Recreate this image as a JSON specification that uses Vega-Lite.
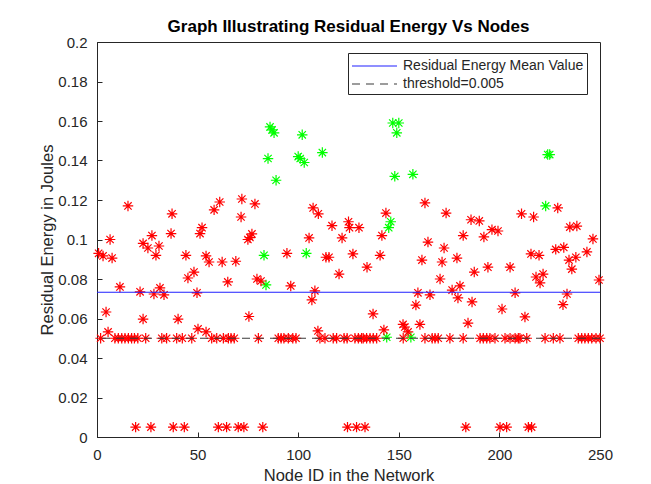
{
  "$schema": "https://vega.github.io/schema/vega-lite/v6.json",
  "width": 503,
  "height": 395,
  "autosize": {"type": "none"},
  "padding": {"left": 97, "top": 42, "right": 51, "bottom": 47},
  "background": "white",
  "config": {"font": "Liberation Sans", "view": {"stroke": "#262626", "strokeWidth": 1}},
  "title": {"text": "Graph Illustrating Residual Energy Vs Nodes", "fontSize": 17, "fontWeight": "bold", "color": "#000000", "frame": "group", "offset": -1, "font": "Liberation Sans"},
  "datasets": {
    "nodes": [
      {"node": 86, "energy": 0.157, "status": "high"},
      {"node": 87, "energy": 0.1555, "status": "high"},
      {"node": 88, "energy": 0.154, "status": "high"},
      {"node": 85, "energy": 0.141, "status": "high"},
      {"node": 89, "energy": 0.13, "status": "high"},
      {"node": 100, "energy": 0.142, "status": "high"},
      {"node": 101, "energy": 0.141, "status": "high"},
      {"node": 103, "energy": 0.139, "status": "high"},
      {"node": 102, "energy": 0.153, "status": "high"},
      {"node": 112, "energy": 0.144, "status": "high"},
      {"node": 147, "energy": 0.159, "status": "high"},
      {"node": 150, "energy": 0.159, "status": "high"},
      {"node": 149, "energy": 0.154, "status": "high"},
      {"node": 148, "energy": 0.132, "status": "high"},
      {"node": 157, "energy": 0.133, "status": "high"},
      {"node": 146, "energy": 0.109, "status": "high"},
      {"node": 145, "energy": 0.106, "status": "high"},
      {"node": 144, "energy": 0.0505, "status": "high"},
      {"node": 156, "energy": 0.0505, "status": "high"},
      {"node": 224, "energy": 0.143, "status": "high"},
      {"node": 225, "energy": 0.143, "status": "high"},
      {"node": 223, "energy": 0.117, "status": "high"},
      {"node": 83, "energy": 0.092, "status": "high"},
      {"node": 104, "energy": 0.093, "status": "high"},
      {"node": 84, "energy": 0.077, "status": "high"},
      {"node": 15.4, "energy": 0.117, "status": "low"},
      {"node": 37.3, "energy": 0.113, "status": "low"},
      {"node": 6.5, "energy": 0.1, "status": "low"},
      {"node": 27.3, "energy": 0.102, "status": "low"},
      {"node": 36.8, "energy": 0.103, "status": "low"},
      {"node": 51.2, "energy": 0.103, "status": "low"},
      {"node": 52.2, "energy": 0.106, "status": "low"},
      {"node": 58.2, "energy": 0.115, "status": "low"},
      {"node": 61, "energy": 0.119, "status": "low"},
      {"node": 0.8, "energy": 0.093, "status": "low"},
      {"node": 3, "energy": 0.0917, "status": "low"},
      {"node": 7.5, "energy": 0.0906, "status": "low"},
      {"node": 22.9, "energy": 0.098, "status": "low"},
      {"node": 25.3, "energy": 0.0957, "status": "low"},
      {"node": 30.8, "energy": 0.0967, "status": "low"},
      {"node": 29.3, "energy": 0.092, "status": "low"},
      {"node": 44.2, "energy": 0.092, "status": "low"},
      {"node": 45.2, "energy": 0.0805, "status": "low"},
      {"node": 48.2, "energy": 0.0835, "status": "low"},
      {"node": 54.2, "energy": 0.0917, "status": "low"},
      {"node": 55.7, "energy": 0.0886, "status": "low"},
      {"node": 62.2, "energy": 0.0886, "status": "low"},
      {"node": 11.4, "energy": 0.076, "status": "low"},
      {"node": 21.4, "energy": 0.0735, "status": "low"},
      {"node": 31.3, "energy": 0.0755, "status": "low"},
      {"node": 28.3, "energy": 0.0724, "status": "low"},
      {"node": 33.3, "energy": 0.072, "status": "low"},
      {"node": 49.7, "energy": 0.073, "status": "low"},
      {"node": 4.5, "energy": 0.0633, "status": "low"},
      {"node": 22.9, "energy": 0.0597, "status": "low"},
      {"node": 40.3, "energy": 0.0597, "status": "low"},
      {"node": 5.5, "energy": 0.0532, "status": "low"},
      {"node": 50.2, "energy": 0.0547, "status": "low"},
      {"node": 54.2, "energy": 0.0532, "status": "low"},
      {"node": 1.8, "energy": 0.05, "status": "low"},
      {"node": 8.9, "energy": 0.05, "status": "low"},
      {"node": 10.6, "energy": 0.05, "status": "low"},
      {"node": 12.3, "energy": 0.05, "status": "low"},
      {"node": 13.9, "energy": 0.05, "status": "low"},
      {"node": 15.6, "energy": 0.05, "status": "low"},
      {"node": 17.2, "energy": 0.05, "status": "low"},
      {"node": 18.6, "energy": 0.05, "status": "low"},
      {"node": 20.3, "energy": 0.05, "status": "low"},
      {"node": 24.2, "energy": 0.05, "status": "low"},
      {"node": 32.2, "energy": 0.05, "status": "low"},
      {"node": 34.6, "energy": 0.05, "status": "low"},
      {"node": 39.6, "energy": 0.05, "status": "low"},
      {"node": 42.4, "energy": 0.05, "status": "low"},
      {"node": 47.1, "energy": 0.05, "status": "low"},
      {"node": 57, "energy": 0.05, "status": "low"},
      {"node": 59.5, "energy": 0.05, "status": "low"},
      {"node": 62.8, "energy": 0.05, "status": "low"},
      {"node": 19.2, "energy": 0.005, "status": "low"},
      {"node": 26.8, "energy": 0.005, "status": "low"},
      {"node": 37.9, "energy": 0.005, "status": "low"},
      {"node": 43.4, "energy": 0.005, "status": "low"},
      {"node": 60.3, "energy": 0.005, "status": "low"},
      {"node": 72, "energy": 0.1205, "status": "low"},
      {"node": 78.5, "energy": 0.118, "status": "low"},
      {"node": 71.6, "energy": 0.1114, "status": "low"},
      {"node": 77, "energy": 0.1028, "status": "low"},
      {"node": 75, "energy": 0.1, "status": "low"},
      {"node": 76, "energy": 0.101, "status": "low"},
      {"node": 69, "energy": 0.089, "status": "low"},
      {"node": 65, "energy": 0.0785, "status": "low"},
      {"node": 79.5, "energy": 0.08, "status": "low"},
      {"node": 81.5, "energy": 0.079, "status": "low"},
      {"node": 94.4, "energy": 0.093, "status": "low"},
      {"node": 96.3, "energy": 0.0765, "status": "low"},
      {"node": 107.4, "energy": 0.116, "status": "low"},
      {"node": 110, "energy": 0.113, "status": "low"},
      {"node": 105.4, "energy": 0.1008, "status": "low"},
      {"node": 113.8, "energy": 0.091, "status": "low"},
      {"node": 115.3, "energy": 0.091, "status": "low"},
      {"node": 116.8, "energy": 0.107, "status": "low"},
      {"node": 121.8, "energy": 0.1008, "status": "low"},
      {"node": 125, "energy": 0.109, "status": "low"},
      {"node": 125.5, "energy": 0.106, "status": "low"},
      {"node": 120.3, "energy": 0.0825, "status": "low"},
      {"node": 108.3, "energy": 0.074, "status": "low"},
      {"node": 106.8, "energy": 0.0694, "status": "low"},
      {"node": 75.5, "energy": 0.061, "status": "low"},
      {"node": 109.8, "energy": 0.0537, "status": "low"},
      {"node": 65.3, "energy": 0.05, "status": "low"},
      {"node": 66.6, "energy": 0.05, "status": "low"},
      {"node": 68.2, "energy": 0.05, "status": "low"},
      {"node": 80.2, "energy": 0.05, "status": "low"},
      {"node": 90.1, "energy": 0.05, "status": "low"},
      {"node": 91.5, "energy": 0.05, "status": "low"},
      {"node": 92.9, "energy": 0.05, "status": "low"},
      {"node": 95.1, "energy": 0.05, "status": "low"},
      {"node": 97.3, "energy": 0.05, "status": "low"},
      {"node": 98.9, "energy": 0.05, "status": "low"},
      {"node": 110.8, "energy": 0.05, "status": "low"},
      {"node": 113.3, "energy": 0.05, "status": "low"},
      {"node": 117.4, "energy": 0.05, "status": "low"},
      {"node": 119.1, "energy": 0.05, "status": "low"},
      {"node": 122.8, "energy": 0.05, "status": "low"},
      {"node": 64.4, "energy": 0.005, "status": "low"},
      {"node": 70.2, "energy": 0.005, "status": "low"},
      {"node": 73, "energy": 0.005, "status": "low"},
      {"node": 82.4, "energy": 0.005, "status": "low"},
      {"node": 124.5, "energy": 0.005, "status": "low"},
      {"node": 130.2, "energy": 0.106, "status": "low"},
      {"node": 141.6, "energy": 0.102, "status": "low"},
      {"node": 127.2, "energy": 0.0927, "status": "low"},
      {"node": 140.7, "energy": 0.092, "status": "low"},
      {"node": 134.2, "energy": 0.086, "status": "low"},
      {"node": 164.5, "energy": 0.0987, "status": "low"},
      {"node": 172.5, "energy": 0.0957, "status": "low"},
      {"node": 161.5, "energy": 0.0896, "status": "low"},
      {"node": 171.5, "energy": 0.0886, "status": "low"},
      {"node": 178.9, "energy": 0.0906, "status": "low"},
      {"node": 182, "energy": 0.102, "status": "low"},
      {"node": 170.5, "energy": 0.08, "status": "low"},
      {"node": 176.5, "energy": 0.0744, "status": "low"},
      {"node": 180.4, "energy": 0.0765, "status": "low"},
      {"node": 179.4, "energy": 0.0704, "status": "low"},
      {"node": 187.5, "energy": 0.0835, "status": "low"},
      {"node": 186.4, "energy": 0.0684, "status": "low"},
      {"node": 159.5, "energy": 0.073, "status": "low"},
      {"node": 165.5, "energy": 0.072, "status": "low"},
      {"node": 158.5, "energy": 0.0668, "status": "low"},
      {"node": 137.2, "energy": 0.0623, "status": "low"},
      {"node": 184.4, "energy": 0.0577, "status": "low"},
      {"node": 142.6, "energy": 0.0542, "status": "low"},
      {"node": 152.1, "energy": 0.057, "status": "low"},
      {"node": 153, "energy": 0.0557, "status": "low"},
      {"node": 154.6, "energy": 0.0532, "status": "low"},
      {"node": 160.5, "energy": 0.057, "status": "low"},
      {"node": 163, "energy": 0.1185, "status": "low"},
      {"node": 173.5, "energy": 0.1134, "status": "low"},
      {"node": 185.9, "energy": 0.11, "status": "low"},
      {"node": 143.6, "energy": 0.1134, "status": "low"},
      {"node": 124.3, "energy": 0.05, "status": "low"},
      {"node": 128.2, "energy": 0.05, "status": "low"},
      {"node": 129.9, "energy": 0.05, "status": "low"},
      {"node": 131.5, "energy": 0.05, "status": "low"},
      {"node": 132.3, "energy": 0.05, "status": "low"},
      {"node": 134, "energy": 0.05, "status": "low"},
      {"node": 135.7, "energy": 0.05, "status": "low"},
      {"node": 137.3, "energy": 0.05, "status": "low"},
      {"node": 139, "energy": 0.05, "status": "low"},
      {"node": 152.2, "energy": 0.05, "status": "low"},
      {"node": 163, "energy": 0.05, "status": "low"},
      {"node": 166.6, "energy": 0.05, "status": "low"},
      {"node": 168, "energy": 0.05, "status": "low"},
      {"node": 169.6, "energy": 0.05, "status": "low"},
      {"node": 175.4, "energy": 0.05, "status": "low"},
      {"node": 182, "energy": 0.05, "status": "low"},
      {"node": 129, "energy": 0.005, "status": "low"},
      {"node": 133.2, "energy": 0.005, "status": "low"},
      {"node": 183.3, "energy": 0.005, "status": "low"},
      {"node": 229, "energy": 0.116, "status": "low"},
      {"node": 211, "energy": 0.113, "status": "low"},
      {"node": 217, "energy": 0.1114, "status": "low"},
      {"node": 190, "energy": 0.1094, "status": "low"},
      {"node": 235, "energy": 0.1063, "status": "low"},
      {"node": 238.5, "energy": 0.1068, "status": "low"},
      {"node": 196.3, "energy": 0.105, "status": "low"},
      {"node": 199.3, "energy": 0.1043, "status": "low"},
      {"node": 192.3, "energy": 0.1013, "status": "low"},
      {"node": 246.5, "energy": 0.1003, "status": "low"},
      {"node": 215.7, "energy": 0.0927, "status": "low"},
      {"node": 219.7, "energy": 0.092, "status": "low"},
      {"node": 228, "energy": 0.095, "status": "low"},
      {"node": 232, "energy": 0.096, "status": "low"},
      {"node": 243.5, "energy": 0.0937, "status": "low"},
      {"node": 234.6, "energy": 0.0896, "status": "low"},
      {"node": 238, "energy": 0.091, "status": "low"},
      {"node": 236, "energy": 0.085, "status": "low"},
      {"node": 194.3, "energy": 0.086, "status": "low"},
      {"node": 205.3, "energy": 0.086, "status": "low"},
      {"node": 218.2, "energy": 0.081, "status": "low"},
      {"node": 221.7, "energy": 0.0825, "status": "low"},
      {"node": 220.2, "energy": 0.078, "status": "low"},
      {"node": 249.5, "energy": 0.0795, "status": "low"},
      {"node": 207.8, "energy": 0.073, "status": "low"},
      {"node": 233.6, "energy": 0.0724, "status": "low"},
      {"node": 231.6, "energy": 0.067, "status": "low"},
      {"node": 201.3, "energy": 0.0648, "status": "low"},
      {"node": 212.7, "energy": 0.0608, "status": "low"},
      {"node": 190.4, "energy": 0.05, "status": "low"},
      {"node": 192, "energy": 0.05, "status": "low"},
      {"node": 193.7, "energy": 0.05, "status": "low"},
      {"node": 195.3, "energy": 0.05, "status": "low"},
      {"node": 197.8, "energy": 0.05, "status": "low"},
      {"node": 202.8, "energy": 0.05, "status": "low"},
      {"node": 205.3, "energy": 0.05, "status": "low"},
      {"node": 207.8, "energy": 0.05, "status": "low"},
      {"node": 209.4, "energy": 0.05, "status": "low"},
      {"node": 210.2, "energy": 0.05, "status": "low"},
      {"node": 213.6, "energy": 0.05, "status": "low"},
      {"node": 222.7, "energy": 0.05, "status": "low"},
      {"node": 226.8, "energy": 0.05, "status": "low"},
      {"node": 230.1, "energy": 0.05, "status": "low"},
      {"node": 239.2, "energy": 0.05, "status": "low"},
      {"node": 240.9, "energy": 0.05, "status": "low"},
      {"node": 242.5, "energy": 0.05, "status": "low"},
      {"node": 244.2, "energy": 0.05, "status": "low"},
      {"node": 245.9, "energy": 0.05, "status": "low"},
      {"node": 248, "energy": 0.05, "status": "low"},
      {"node": 250, "energy": 0.05, "status": "low"},
      {"node": 200.3, "energy": 0.005, "status": "low"},
      {"node": 203.6, "energy": 0.005, "status": "low"},
      {"node": 214.4, "energy": 0.005, "status": "low"},
      {"node": 216, "energy": 0.005, "status": "low"}
    ],
    "lines": [
      {"series": "Residual Energy Mean Value", "energy": 0.0733},
      {"series": "threshold=0.005", "energy": 0.05}
    ]
  },
  "layer": [
    {
      "data": {"name": "nodes"},
      "mark": {"type": "point", "shape": "M-1,0L1,0M0,-1L0,1M-0.7,-0.7L0.7,0.7M-0.7,0.7L0.7,-0.7", "filled": false, "size": 110, "strokeWidth": 1.2, "opacity": 1},
      "encoding": {
        "x": {"field": "node", "type": "quantitative", "scale": {"domain": [0, 250], "nice": false, "zero": false},
          "axis": {"values": [0, 50, 100, 150, 200, 250], "title": "Node ID in the Network", "titleFontSize": 16.5, "titleFontWeight": "normal", "titleColor": "#262626", "labelFontSize": 15, "labelColor": "#262626", "domainColor": "#262626", "tickColor": "#262626", "tickSize": -5, "labelPadding": 15, "titlePadding": 5, "grid": false, "labelFlush": false, "labelOverlap": false, "labelFont": "Liberation Sans", "titleFont": "Liberation Sans"}},
        "y": {"field": "energy", "type": "quantitative", "scale": {"domain": [0, 0.2], "nice": false},
          "axis": {"values": [0, 0.02, 0.04, 0.06, 0.08, 0.1, 0.12, 0.14, 0.16, 0.18, 0.2], "format": ".2~f", "title": "Residual Energy in Joules", "titleFontSize": 16.5, "titleFontWeight": "normal", "titleColor": "#262626", "labelFontSize": 15, "labelColor": "#262626", "domainColor": "#262626", "tickColor": "#262626", "tickSize": -5, "labelPadding": 15, "titlePadding": 2, "grid": false, "labelFlush": false, "labelOverlap": false, "labelBound": false, "labelFont": "Liberation Sans", "titleFont": "Liberation Sans"}},
        "color": {"field": "status", "type": "nominal", "scale": {"domain": ["low", "high"], "range": ["#ff0000", "#00ff00"]}, "legend": null}
      }
    },
    {
      "data": {"name": "lines"},
      "mark": {"type": "rule", "strokeWidth": 1.2},
      "encoding": {
        "y": {"field": "energy", "type": "quantitative", "scale": {"domain": [0, 0.2], "nice": false},
          "axis": {"values": [0, 0.02, 0.04, 0.06, 0.08, 0.1, 0.12, 0.14, 0.16, 0.18, 0.2], "format": ".2~f", "title": "Residual Energy in Joules", "titleFontSize": 16.5, "titleFontWeight": "normal", "titleColor": "#262626", "labelFontSize": 15, "labelColor": "#262626", "domainColor": "#262626", "tickColor": "#262626", "tickSize": -5, "labelPadding": 15, "titlePadding": 2, "grid": false, "labelFlush": false, "labelOverlap": false, "labelBound": false, "labelFont": "Liberation Sans", "titleFont": "Liberation Sans"}},
        "stroke": {"field": "series", "type": "nominal", "scale": {"domain": ["Residual Energy Mean Value", "threshold=0.005"], "range": ["#2020ff", "#3a3a3a"]},
          "legend": {"orient": "none", "legendX": 251, "legendY": 11, "title": null, "symbolType": "M-1,0L4,0", "symbolSize": 324, "symbolStrokeWidth": 1.2, "symbolFillColor": "transparent", "labelFontSize": 14, "labelLimit": 400, "labelColor": "#262626", "labelFont": "Liberation Sans", "strokeColor": "#262626", "fillColor": "white", "padding": 3, "rowPadding": 1, "labelOffset": 32}},
        "strokeDash": {"field": "series", "type": "nominal", "scale": {"domain": ["Residual Energy Mean Value", "threshold=0.005"], "range": [[1, 0], [8, 6]]},
          "legend": {"orient": "none", "legendX": 251, "legendY": 11, "title": null, "symbolType": "M-1,0L4,0", "symbolSize": 324, "symbolStrokeWidth": 1.2, "symbolFillColor": "transparent", "labelFontSize": 14, "labelLimit": 400, "labelColor": "#262626", "labelFont": "Liberation Sans", "strokeColor": "#262626", "fillColor": "white", "padding": 3, "rowPadding": 1, "labelOffset": 32}}
      }
    }
  ]
}
